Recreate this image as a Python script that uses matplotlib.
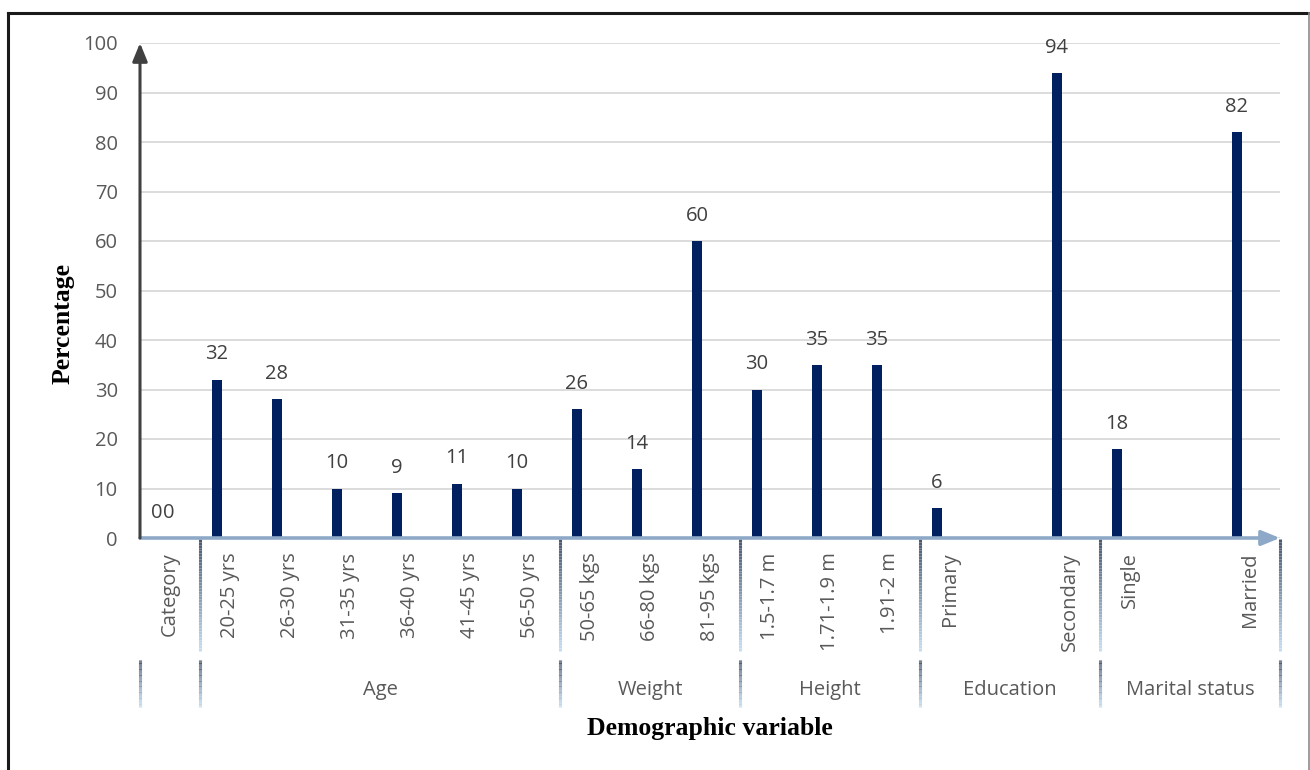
import numpy as np
import matplotlib
matplotlib.use("Agg")
import matplotlib.pyplot as plt
import matplotlib.transforms as mtransforms
from matplotlib.collections import LineCollection
from matplotlib.colors import LinearSegmentedColormap
from matplotlib.lines import Line2D

# ---- data -------------------------------------------------------------
categories = ["Category",
              "20-25 yrs", "26-30 yrs", "31-35 yrs", "36-40 yrs", "41-45 yrs", "56-50 yrs",
              "50-65 kgs", "66-80 kgs", "81-95 kgs",
              "1.5-1.7 m", "1.71-1.9 m", "1.91-2 m",
              "Primary", "", "Secondary",
              "Single", "", "Married"]
groups = ["", "Age", "Weight", "Height", "Education", "Marital status"]
group_sizes = [1, 6, 3, 3, 3, 3]
percentage = [0, 32, 28, 10, 9, 11, 10, 26, 14, 60, 30, 35, 35, 6, None, 94, 18, None, 82]
second_series = [0] + [None] * 18
y_ticks = list(range(0, 101, 10))

# ---- style ------------------------------------------------------------
plt.rcParams["font.family"] = ["Open Sans", "DejaVu Sans"]
BAR = "#002060"
TXT = "#595959"
GRID = "#D9D9D9"
XAXIS = "#8EA9C8"
FS = 14.5

W, H = 1310, 770
fig = plt.figure(figsize=(W / 100, H / 100), dpi=100)
ax = fig.add_axes([140 / W, 1 - 538 / H, 1140 / W, 495 / H])

x = np.arange(len(categories))
bar_w = 0.167
off1, off2 = -0.217, -0.017

for xi, v in zip(x, percentage):
    if v is None:
        continue
    ax.bar(xi + off1, v, width=bar_w, color=BAR, zorder=3)
    ax.annotate(f"{v}", (xi + off1, v), xytext=(0, 14.5), textcoords="offset points",
                ha="center", va="baseline", fontsize=FS, color="#404040", zorder=4)
for xi, v in zip(x, second_series):
    if v is None:
        continue
    ax.bar(xi + off2, v, width=bar_w, color=BAR, zorder=3)
    ax.annotate(f"{v}", (xi + off2, v), xytext=(0, 14.5), textcoords="offset points",
                ha="center", va="baseline", fontsize=FS, color="#404040", zorder=4)

ax.set_xlim(-0.5, len(categories) - 0.5)
ax.set_ylim(0, 100)
for s in ax.spines.values():
    s.set_visible(False)

ax.set_yticks(y_ticks)
ax.tick_params(axis="y", length=0, pad=16, labelsize=FS, labelcolor=TXT)
ax.yaxis.grid(True, color=GRID, linewidth=1.3, zorder=0)
ax.set_axisbelow(True)

ax.set_xticks(x)
ax.set_xticklabels(categories, rotation=90, ha="center", va="top")
ax.tick_params(axis="x", length=0, pad=10.5, labelsize=FS, labelcolor=TXT)

# axis arrows
ax.annotate("", xy=(-0.5, 100), xytext=(-0.5, 0), xycoords="data",
            arrowprops=dict(arrowstyle="-|>,head_length=1.1,head_width=0.45",
                            color="#404040", lw=2.2, shrinkA=0, shrinkB=0),
            annotation_clip=False, zorder=6)
ax.annotate("", xy=(len(categories) - 0.5, 0), xytext=(-0.5, 0), xycoords="data",
            arrowprops=dict(arrowstyle="-|>,head_length=1.1,head_width=0.45",
                            color=XAXIS, lw=2.6, shrinkA=0, shrinkB=0),
            annotation_clip=False, zorder=5)

# group separators with a dark-to-light fade
trans = mtransforms.blended_transform_factory(ax.transData, ax.transAxes)
fade = LinearSegmentedColormap.from_list("fade", ["#4A5A70", "#C5DDF2"])
px = 495.0


def fade_line(xpos, y_top, y_bot):
    ys = np.linspace(y_top, y_bot, 40)
    segs = [[(xpos, -(ys[i] - 538) / px), (xpos, -(ys[i + 1] - 538) / px)]
            for i in range(len(ys) - 1)]
    lc = LineCollection(segs, colors=fade(np.linspace(0, 1, len(segs))),
                        linewidths=2.2, transform=trans, clip_on=False)
    ax.add_collection(lc)


bounds = np.cumsum([0] + group_sizes) - 0.5
for i, b in enumerate(bounds):
    if i > 0:
        fade_line(b, 539, 651)
    fade_line(b, 660, 707)

for g, lo, hi in zip(groups, bounds[:-1], bounds[1:]):
    if g:
        ax.text((lo + hi) / 2, -(690 - 538) / px, g, transform=trans, ha="center",
                va="center", fontsize=FS, color=TXT)

# axis titles
fig.text(710 / W, 1 - 728 / H, "Demographic variable", ha="center", va="center",
         fontsize=18.5, fontweight="bold", family="Liberation Serif", color="black")
fig.text(63 / W, 1 - 323 / H, "Percentage", ha="center", va="center", rotation=90,
         fontsize=18.5, fontweight="bold", family="Liberation Serif", color="black")

# frame
fig.add_artist(Line2D([8 / W, 8 / W], [0, 1 - 13 / H], transform=fig.transFigure,
                      color="#1A1A1A", lw=2.2))
fig.add_artist(Line2D([8 / W, 1309 / W], [1 - 13 / H, 1 - 13 / H], transform=fig.transFigure,
                      color="#1A1A1A", lw=2.2))
fig.add_artist(Line2D([1309 / W, 1309 / W], [0, 1 - 13 / H], transform=fig.transFigure,
                      color="#8C8C8C", lw=1.2))

fig.savefig("out.png", dpi=100, facecolor="white")
